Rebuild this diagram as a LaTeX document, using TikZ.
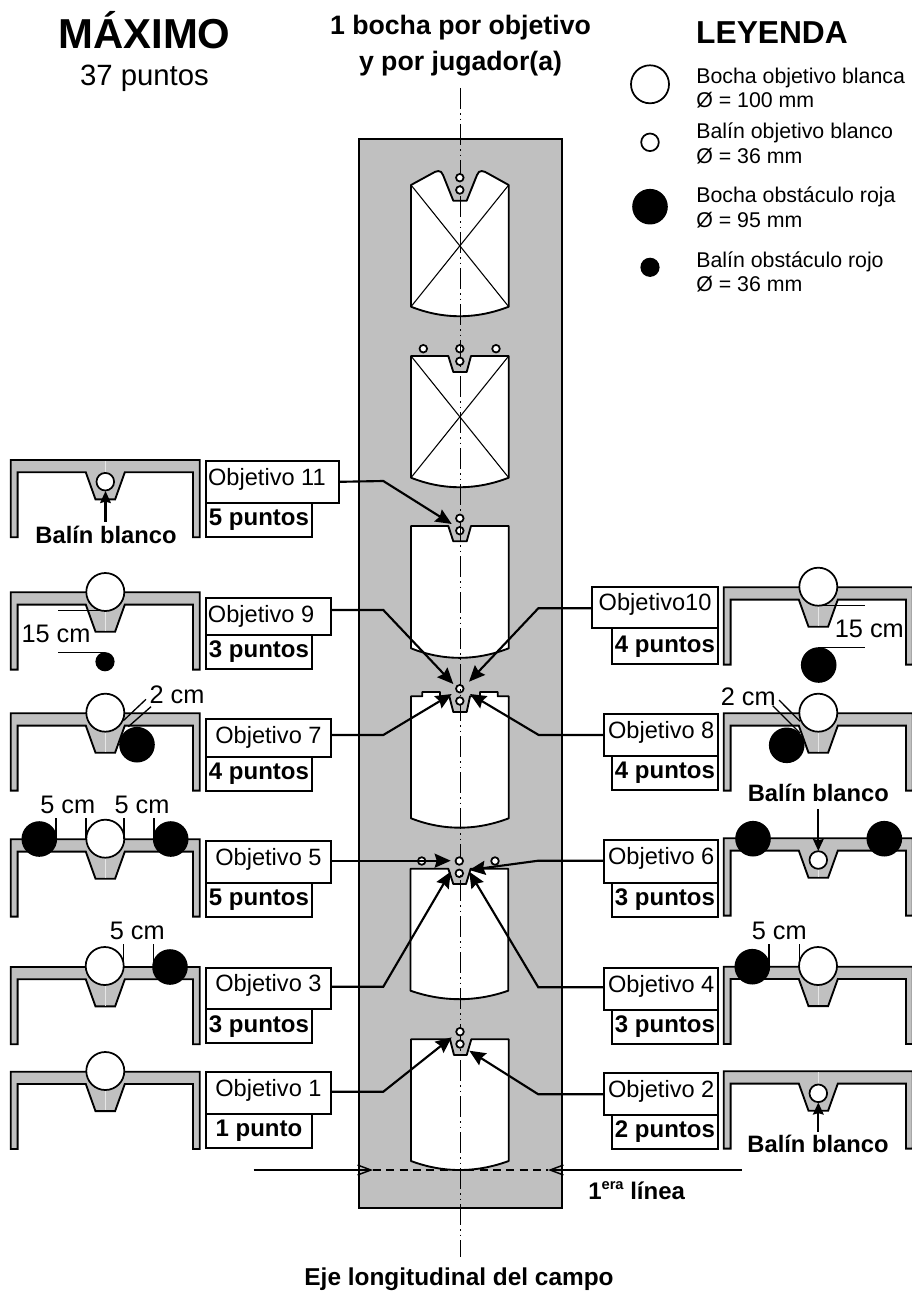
\documentclass[tikz,border=0pt]{standalone}
\usepackage{fontspec}
\setmainfont{Liberation Sans}
\usetikzlibrary{arrows.meta}
\definecolor{campogris}{RGB}{192,192,192}
\tikzset{
    % marco de un objetivo
    pics/marco/.style={code={
        \draw[line width=1.4pt, fill=campogris] (-94.5,0) -- (94.5,0) -- (94.5,77.3) -- (87.7,77.3) -- (87.7,12.3) -- (19.5,12.3) -- (9.8,39.4) -- (-9.8,39.4) -- (-19.5,12.3) -- (-87.7,12.3) -- (-87.7,77.3) -- (-94.5,77.3) -- cycle;
        \draw[line width=0.5pt, campogris!40!white] (0,1) -- (0,38.5);
    }},
    flecha/.style={
        line width=1.6pt,
        -{Stealth[length=12pt, width=10.5pt, inset=1.5pt]}
    },
    flechita/.style={
        line width=1.6pt,
        -{Stealth[length=9pt, width=8pt, inset=1pt]}
    },
    linea/.style={
        line width=1.1pt,
        -{Straight Barb[length=10pt, width=7.5pt]}
    },
    panel/.style={line width=1.4pt, fill=white, line join=round},
    cruz/.style={line width=0.8pt},
    cota/.style={line width=1pt},
    obj/.style={draw, line width=1.4pt, anchor=north west, inner sep=0pt, font=\fontsize{17.7}{20}\selectfont, text height=15pt, text depth=10pt},
    objbajo/.style={text height=16pt, text depth=7pt},
    pts/.style={draw, line width=1.4pt, anchor=north west, inner sep=0pt, font=\fontsize{18}{20}\selectfont\bfseries, text height=13pt, text depth=4pt, minimum height=25.5pt},
    med/.style={anchor=base, inner sep=0pt, font=\fontsize{19}{21}\selectfont},
    balin/.style={anchor=base, inner sep=0pt, font=\fontsize{17.8}{20}\selectfont\bfseries},
    ley/.style={anchor=base west, inner sep=0pt, align=left, font=\fontsize{16}{18.4}\selectfont}
}

\begin{document}
\begin{tikzpicture}[x=0.75pt, y=-0.75pt]
    \clip (0,0) rectangle (912,1291);

    % campo
    \draw[line width=1.6pt, fill=campogris] (359,139.3) rectangle (562.3,1208.3);

    % paneles
    \draw[panel] (411,185) -- (432,173.5) .. controls (436,171) and (441,169) .. (443,175) -- (453.3,200.7) -- (466.7,200.7) -- (477,175) .. controls (479,169) and (484,171) .. (488,173.5) -- (508.7,185) -- (508.7,306.7) .. controls (476,319.4) and (443,319.4) .. (411,306.7) -- cycle;
    \draw[cruz] (411,185) -- (508.7,306.7) (508.7,185) -- (411,306.7);
    \draw[panel] (411,356) -- (448.3,356) -- (453.3,372) -- (466.7,372) -- (471,356) -- (508.7,356) -- (508.7,477.7) .. controls (476,490.4) and (443,490.4) .. (411,477.7) -- cycle;
    \draw[cruz] (411,356) -- (508.7,477.7) (508.7,356) -- (411,477.7);
    \draw[panel] (411,526) -- (448.3,526) -- (453.3,541.3) -- (466.7,541.3) -- (471,526) -- (508.7,526) -- (508.7,648.3) .. controls (476,661) and (443,661) .. (411,648.3) -- cycle;
    \draw[panel] (411,696.3) -- (422.3,696.3) -- (422.3,692) -- (440,692) -- (440,696.3) -- (449.3,696.3) -- (453.3,712) -- (466.7,712) -- (470,696.3) -- (480,696.3) -- (480,692) -- (497.7,692) -- (497.7,696.3) -- (508.7,696.3) -- (508.7,818.3) .. controls (476,830.8) and (443,830.8) .. (411,818.3) -- cycle;
    \draw[panel] (410.5,868.7) -- (448.3,868.7) -- (453.3,884) -- (466,884) -- (470.7,868.7) -- (508.2,868.7) -- (508.2,990.7) .. controls (476,1002) and (443,1002) .. (410.5,990.7) -- cycle;
    \draw[panel] (411,1039.3) -- (450,1039.3) -- (454,1055) -- (466.7,1055) -- (471.3,1039.3) -- (508.7,1039.3) -- (508.7,1161) .. controls (476,1173) and (443,1173) .. (411,1161) -- cycle;

    % balines bajo el eje
    \foreach \bx/\by in {459.8/530.7, 459.8/688.7, 459.3/873.3, 459.8/348.7}
        \draw[line width=1.3pt, fill=white] (\bx,\by) circle (3.8);

    % eje longitudinal
    \coordinate (ejearriba) at (460,88);
    \coordinate (ejeabajo) at (460,1257);
    \draw[line width=0.6pt, dash pattern=on 16pt off 3pt on 1pt off 3pt on 1pt off 3pt] (ejearriba) -- (ejeabajo);

    % balines del campo
    \foreach \bx/\by in {459.8/177.7, 459.8/190, 423.3/348.7, 496/348.7, 459.8/361.3, 459.8/518.3, 459.8/701, 421.7/861, 459.3/861, 495/861, 460/1031.7, 460/1044}
        \draw[line width=1.3pt, fill=white] (\bx,\by) circle (3.8);

    % primera linea
    \coordinate (lineaizq) at (253.5,1170);
    \coordinate (lineader) at (741.7,1170);
    \coordinate (puntaizq) at (373,1170);
    \coordinate (puntader) at (548,1170);
    \draw[line width=0.8pt, dash pattern=on 6pt off 4pt] (puntaizq) -- (puntader);
    \draw[linea] (lineaizq) -- (puntaizq);
    \draw[linea] (lineader) -- (puntader);

    % marcos
    \foreach \mx/\my in {105.3/460, 105.3/592.3, 105.3/713.3, 105.3/839.3, 105.3/967, 105.3/1071.7, 818.3/587.3, 818.3/713.3, 818.3/838.3, 818.3/966.7, 818.3/1071.3}
        \pic at (\mx,\my) {marco};

    % bochas blancas
    \foreach \bx/\by in {105.3/592, 105.3/712.7, 105.3/838.7, 104.7/966, 105.3/1071, 818.3/586.7, 818.3/712.7, 818/966, 650/84.3}
        \draw[line width=1.3pt, fill=white] (\bx,\by) circle (19);

    % balines blancos
    \foreach \bx/\by in {105.3/481.7, 818.3/860, 818.3/1093.3, 650/142.3}
        \draw[line width=1.3pt, fill=white] (\bx,\by) circle (8.8);

    % bochas rojas
    \foreach \bx/\by in {137/744.7, 39.3/839, 170.7/839, 170/967, 818.7/665, 786.7/745.3, 753/838.7, 884.3/838.7, 752.3/966.7, 650/206.7}
        \fill (\bx,\by) circle (17.8);

    % balines rojos
    \foreach \bx/\by in {105/661.7, 650/267.3}
        \fill (\bx,\by) circle (9.6);

    % cotas
    \draw[cota] (58.3,610.7) -- (105,610.7) (58.3,652.3) -- (105,652.3);
    \draw[cota] (818,605.7) -- (865,605.7) (818,647.7) -- (865,647.7);
    \draw[cota] (146,699.3) -- (123.3,720.7) (151,706.7) -- (128.3,726.7);
    \draw[cota] (779,700) -- (800,721.3) (772.7,705.7) -- (800,733);
    \draw[cota] (56,818.3) -- (56,839) (86,818.3) -- (86,839) (124,818.3) -- (124,839) (154,818.3) -- (154,839);
    \draw[cota] (123.7,944) -- (123.7,967) (153.7,944) -- (153.7,967);
    \draw[cota] (769,944) -- (769,966) (799.3,944) -- (799.3,966);

    \node[med] (c15i) at (56,642) {15 cm};
    \node[med] (c15d) at (869.3,637) {15 cm};
    \node[med] (c2i) at (177,703) {2 cm};
    \node[med] (c2d) at (748.3,705) {2 cm};
    \node[med] (c5a) at (67.7,813) {5 cm};
    \node[med] (c5b) at (142,813) {5 cm};
    \node[med] (c5c) at (137.3,939.7) {5 cm};
    \node[med] (c5d) at (779.3,939.7) {5 cm};

    % balin blanco
    \node[balin] (bb11) at (106,543) {Balín blanco};
    \node[balin] (bb6) at (818.3,801.7) {Balín blanco};
    \node[balin] (bb2) at (818,1152.7) {Balín blanco};
    \coordinate (ini11) at (105.5,521.7);
    \coordinate (fin11) at (105.5,491);
    \coordinate (ini6) at (818.3,809.3);
    \coordinate (fin6) at (818.3,851);
    \coordinate (ini2) at (818.3,1131.7);
    \coordinate (fin2) at (818.3,1102.5);
    \draw[flechita] (ini11) -- (fin11);
    \draw[flechita] (ini6) -- (fin6);
    \draw[flechita] (ini2) -- (fin2);

    % objetivos izquierda
    \node[obj, minimum width=100pt, minimum height=31.3pt] (ob11) at (205,460) {Objetivo 11\hspace*{8.5pt}};
    \node[pts, minimum width=79.5pt] (pt11) at (205,501.7) {5 puntos};
    \node[obj, objbajo, minimum width=93.75pt, minimum height=27.5pt] (ob9) at (205,597.3) {Objetivo 9\hspace*{11pt}};
    \node[pts, minimum width=79.5pt] (pt9) at (205,634) {3 puntos};
    \node[obj, objbajo, minimum width=93.75pt, minimum height=28.5pt] (ob7) at (205,717.7) {Objetivo 7};
    \node[pts, minimum width=79.5pt] (pt7) at (205,755.7) {4 puntos};
    \node[obj, minimum width=93.75pt, minimum height=31pt] (ob5) at (205,840.3) {Objetivo 5};
    \node[pts, minimum width=79.5pt] (pt5) at (205,881.7) {5 puntos};
    \node[obj, minimum width=93.75pt, minimum height=31.2pt] (ob3) at (205,966.7) {Objetivo 3};
    \node[pts, minimum width=79.5pt] (pt3) at (205,1008.3) {3 puntos};
    \node[obj, minimum width=93.75pt, minimum height=31.3pt] (ob1) at (205,1071) {Objetivo 1};
    \node[pts, minimum width=79.5pt] (pt1) at (205,1112.7) {1 punto};

    % objetivos derecha
    \node[obj, minimum width=94.7pt, minimum height=31.2pt] (ob10) at (591,585.7) {Objetivo10};
    \node[pts, minimum width=80pt, minimum height=27pt] (pt10) at (610.7,627.3) {4 puntos};
    \node[obj, minimum width=85.5pt, minimum height=31.3pt] (ob8) at (603.3,713.3) {Objetivo 8};
    \node[pts, minimum width=80pt] (pt8) at (610.7,755) {4 puntos};
    \node[obj, minimum width=85.5pt, minimum height=31.8pt] (ob6) at (603.3,839.3) {Objetivo 6};
    \node[pts, minimum width=80pt] (pt6) at (610.7,881.7) {3 puntos};
    \node[obj, minimum width=85.5pt, minimum height=31.7pt] (ob4) at (603.3,966.7) {Objetivo 4};
    \node[pts, minimum width=80pt] (pt4) at (610.7,1009) {3 puntos};
    \node[obj, minimum width=85.5pt, minimum height=31.7pt] (ob2) at (603.3,1071.7) {Objetivo 2};
    \node[pts, minimum width=80pt] (pt2) at (610.7,1114) {2 puntos};

    % codos y puntas
    \coordinate (cd11) at (383.3,481);
    \coordinate (cd9) at (383.3,610);
    \coordinate (cd7) at (383.3,735);
    \coordinate (cd3) at (383.3,986.7);
    \coordinate (cd1) at (383.3,1091.7);
    \coordinate (cd10) at (538.3,608.3);
    \coordinate (cd8) at (538.7,735);
    \coordinate (cd6) at (538.3,860.7);
    \coordinate (cd4) at (538.3,987.3);
    \coordinate (cd2) at (538.3,1094.3);
    \coordinate (t11) at (451.7,524);
    \coordinate (t9) at (453.3,684);
    \coordinate (t7) at (451.7,694);
    \coordinate (t5) at (450.7,860.7);
    \coordinate (t3) at (450.7,871.7);
    \coordinate (t1) at (451.7,1037.3);
    \coordinate (t10) at (469,681.7);
    \coordinate (t8) at (470,694);
    \coordinate (t6) at (469.3,870);
    \coordinate (t4) at (469.3,871.7);
    \coordinate (t2) at (469.3,1050.7);

    % flechas
    \draw[flecha] (ob11.east) -- (cd11) -- (t11);
    \draw[flecha] (ob9.east |- cd9) -- (cd9) -- (t9);
    \draw[flecha] (ob7.east |- cd7) -- (cd7) -- (t7);
    \draw[flecha] (ob5.east |- t5) -- (t5);
    \draw[flecha] (ob3.east |- cd3) -- (cd3) -- (t3);
    \draw[flecha] (ob1.east |- cd1) -- (cd1) -- (t1);
    \draw[flecha] (ob10.west |- cd10) -- (cd10) -- (t10);
    \draw[flecha] (ob8.west |- cd8) -- (cd8) -- (t8);
    \draw[flecha] (ob6.west |- cd6) -- (cd6) -- (t6);
    \draw[flecha] (ob4.west |- cd4) -- (cd4) -- (t4);
    \draw[flecha] (ob2.west |- cd2) -- (cd2) -- (t2);

    % titulos
    \node[anchor=base, inner sep=0pt, font=\fontsize{31.4}{34}\selectfont\bfseries] (maximo) at (144.5,48.5) {MÁXIMO};
    \node[anchor=base, inner sep=0pt, font=\fontsize{22}{24}\selectfont] (puntos) at (144.5,86) {37 puntos};
    \node[anchor=base, inner sep=0pt, font=\fontsize{20}{22}\selectfont\bfseries] (bocha) at (460.5,35) {1 bocha por objetivo};
    \node[anchor=base, inner sep=0pt, font=\fontsize{20}{22}\selectfont\bfseries] (jugador) at (460.5,70.5) {y por jugador(a)};
    \node[anchor=base, inner sep=0pt, font=\fontsize{18.3}{20}\selectfont\bfseries] (eje) at (459,1285) {Eje longitudinal del campo};
    \node[anchor=base west, inner sep=0pt, font=\fontsize{18}{20}\selectfont\bfseries] (primera) at (588,1199.3) {1\raisebox{7pt}{\fontsize{11}{12}\selectfont era} línea};

    % leyenda
    \node[anchor=base, inner sep=0pt, font=\fontsize{23.8}{26}\selectfont\bfseries] (leyenda) at (772,43.3) {LEYENDA};
    \node[ley] (ley1) at (696,107.7) {Bocha objetivo blanca\\Ø = 100 mm};
    \node[ley] (ley2) at (696,163.3) {Balín objetivo blanco\\Ø = 36 mm};
    \node[ley] (ley3) at (696,227.3) {Bocha obstáculo roja\\Ø = 95 mm};
    \node[ley] (ley4) at (696,291.7) {Balín obstáculo rojo\\Ø = 36 mm};
\end{tikzpicture}
\end{document}
